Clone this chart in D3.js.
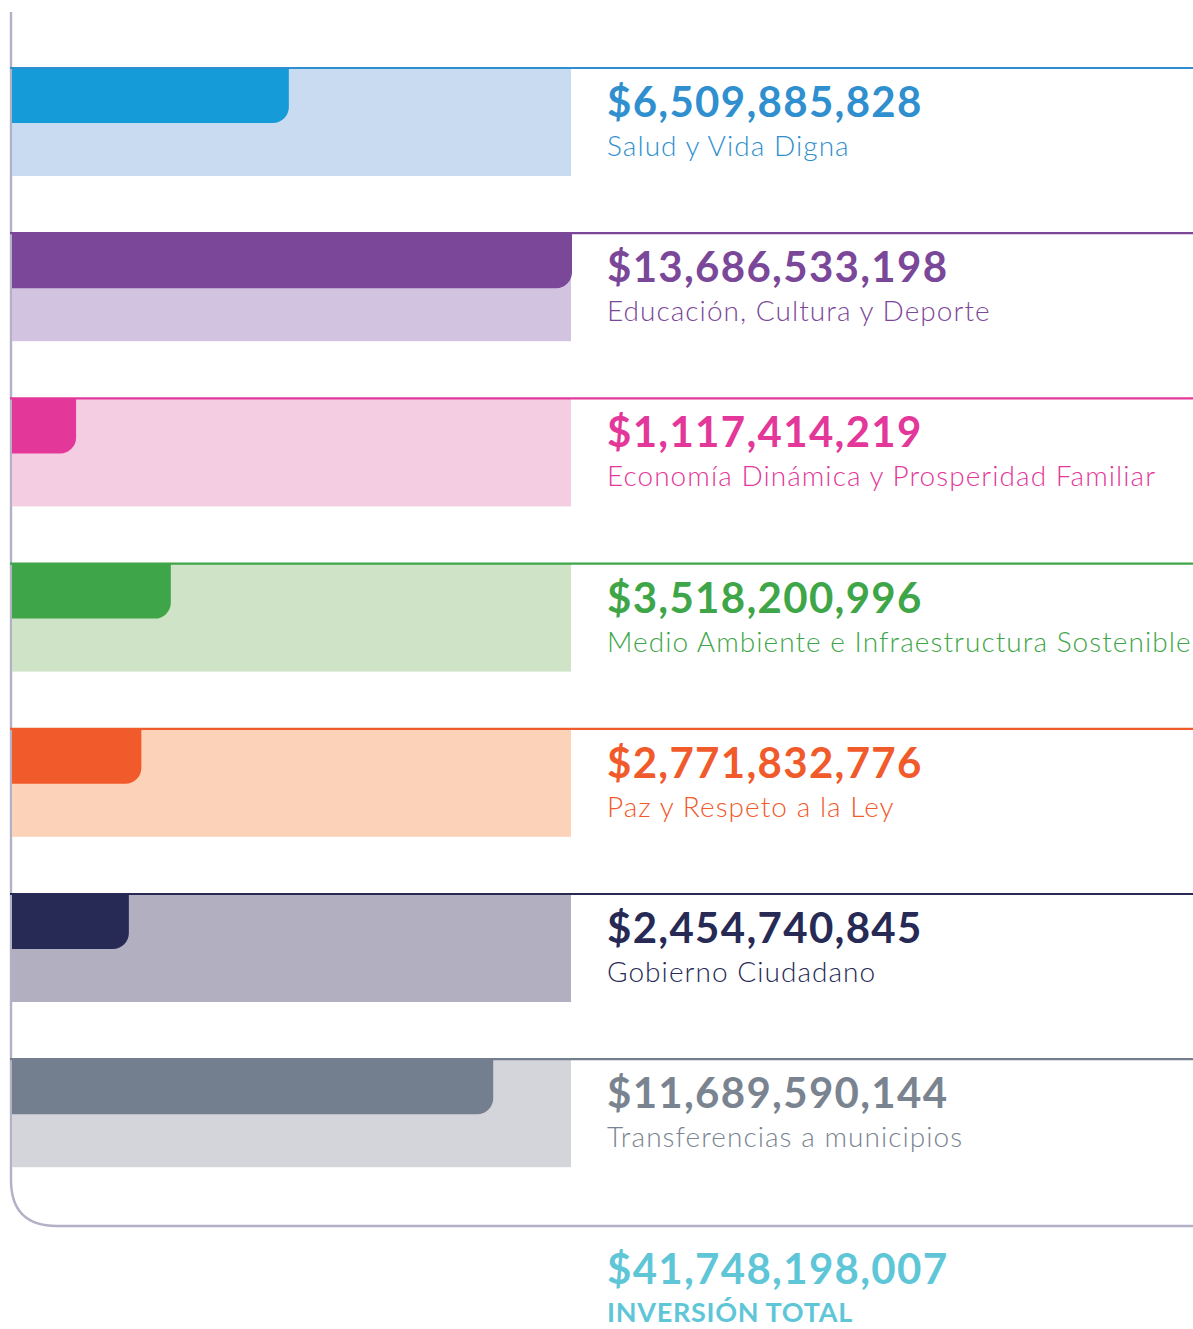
<!DOCTYPE html>
<html>
<head>
<meta charset="utf-8">
<script src="https://cdn.jsdelivr.net/npm/d3@7/dist/d3.min.js"></script>
<style>
  html, body { margin: 0; padding: 0; background: #ffffff; }
  svg { display: block; }
  text { font-family: Lato, "Open Sans", sans-serif; }
</style>
</head>
<body>
<svg id="chart" width="1193" height="1329"></svg>
<script>
// Inversión por eje de gobierno
const categories = [
  "Salud y Vida Digna",
  "Educación, Cultura y Deporte",
  "Economía Dinámica y Prosperidad Familiar",
  "Medio Ambiente e Infraestructura Sostenible",
  "Paz y Respeto a la Ley",
  "Gobierno Ciudadano",
  "Transferencias a municipios"
];
const amounts = [6509885828, 13686533198, 1117414219, 3518200996, 2771832776, 2454740845, 11689590144];
const totalAmount = 41748198007;
const totalLabel = "INVERSIÓN TOTAL";

const strongColors = ["#159cd8", "#7b4799", "#e3389a", "#3ea648", "#f15a2b", "#262a55", "#737f8e"];
const lightColors  = ["#c8dbf0", "#d2c3e0", "#f5cde2", "#cfe3c7", "#fcd2b9", "#b2b0c0", "#d4d5db"];
const lineColors   = ["#2e8fd0", "#7b4799", "#e3389a", "#3ea648", "#f15a2b", "#262a55", "#737f8e"];
const textColors   = ["#2f8fcf", "#7b4799", "#e3389a", "#3ea648", "#f15a2b", "#262a55", "#7a8491"];
const totalColor = "#5fc6d8";
const frameColor = "#b3b1c6";

const rows = categories.map((c, i) => ({
  name: c, value: amounts[i],
  strong: strongColors[i], light: lightColors[i], line: lineColors[i], text: textColors[i]
}));

const svg = d3.select("#chart");
const W = 1193;
const axisX = 11;
const panelLeft = 12, panelRight = 571;
const barH = 55, panelH = 108, radius = 16;
const textX = 607;

// Row positions
const y = d3.scaleBand()
  .domain(categories)
  .range([68, 68 + 165.2 * categories.length])
  .paddingInner(0)
  .paddingOuter(0);

// Bar lengths
const x = d3.scaleLinear()
  .domain([0, d3.max(amounts)])
  .range([32, 572]);

const fmt = v => "$" + d3.format(",")(v);

// Frame: vertical rule curving into the baseline
const frameBottom = 1226, frameR = 46;
svg.append("path")
  .attr("d", `M${axisX},12 V${frameBottom - frameR} Q${axisX},${frameBottom} ${axisX + frameR},${frameBottom} H${W}`)
  .attr("fill", "none")
  .attr("stroke", frameColor)
  .attr("stroke-width", 2.4);

const g = svg.append("g").selectAll("g")
  .data(rows)
  .join("g")
  .attr("transform", d => `translate(0,${y(d.name)})`);

// Light background panel
g.append("rect")
  .attr("x", panelLeft)
  .attr("y", 0)
  .attr("width", panelRight - panelLeft)
  .attr("height", panelH)
  .attr("fill", d => d.light);

// Value bar, only the bottom-right corner rounded
g.append("path")
  .attr("d", d => {
    const x1 = x(d.value);
    return `M${panelLeft},0 H${x1} V${barH - radius} A${radius},${radius} 0 0 1 ${x1 - radius},${barH} H${panelLeft} Z`;
  })
  .attr("fill", d => d.strong);

// Top rule across the row
g.append("line")
  .attr("x1", axisX - 1)
  .attr("x2", W)
  .attr("y1", 0)
  .attr("y2", 0)
  .attr("stroke", d => d.line)
  .attr("stroke-width", 2.2);

// Amount
g.append("text")
  .attr("x", textX)
  .attr("y", 49)
  .attr("fill", d => d.text)
  .attr("font-size", 42)
  .attr("font-weight", 700)
  .attr("letter-spacing", 1.3)
  .text(d => fmt(d.value));

// Category name
g.append("text")
  .attr("x", textX)
  .attr("y", 88)
  .attr("fill", d => d.text)
  .attr("font-size", 28)
  .attr("font-weight", 300)
  .attr("letter-spacing", 1.05)
  .text(d => d.name);

// Total
svg.append("text")
  .attr("x", textX)
  .attr("y", 1284)
  .attr("fill", totalColor)
  .attr("font-size", 42)
  .attr("font-weight", 700)
  .attr("letter-spacing", 1.3)
  .text(fmt(totalAmount));

svg.append("text")
  .attr("x", textX)
  .attr("y", 1322)
  .attr("fill", totalColor)
  .attr("font-size", 27)
  .attr("font-weight", 700)
  .attr("letter-spacing", 0.7)
  .text(totalLabel);
</script>
</body>
</html>
